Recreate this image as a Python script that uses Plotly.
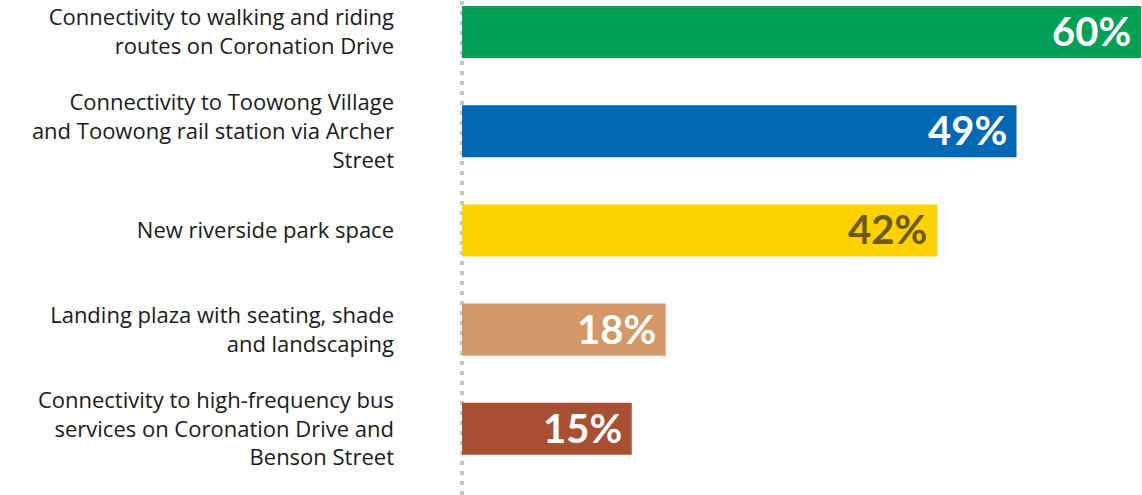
import plotly.graph_objects as go

categories = [
    "Connectivity to walking and riding<br>routes on Coronation Drive",
    "Connectivity to Toowong Village<br>and Toowong rail station via Archer<br>Street",
    "New riverside park space",
    "Landing plaza with seating, shade<br>and landscaping",
    "Connectivity to high-frequency bus<br>services on Coronation Drive and<br>Benson Street",
]
values = [60, 49, 42, 18, 15]
bar_colors = ["#00A056", "#0068B4", "#FFD100", "#D49868", "#A94F33"]
label_colors = ["#FFFFFF", "#FFFFFF", "#6B5A1C", "#FFFFFF", "#FFFFFF"]

fig = go.Figure()
fig.add_trace(go.Bar(
    x=values, y=categories, orientation="h",
    marker=dict(color=bar_colors, line=dict(width=0)),
    width=0.525, hoverinfo="skip",
))

# value labels inside bar ends
for v, c, lc in zip(values, categories, label_colors):
    fig.add_annotation(
        x=v, y=c, xref="x", yref="y", text=f"<b>{v}%</b>",
        showarrow=False, xanchor="right", yanchor="middle", xshift=-8, yshift=1,
        font=dict(family="Lato", size=40, color=lc),
    )

# dotted baseline (paper ref so it is not clipped by the plot area)
fig.add_shape(type="line", xref="paper", yref="paper", x0=0, x1=0, y0=0, y1=1,
              line=dict(color="#C4C4C4", width=4, dash="4px,6px"), layer="below")

fig.update_layout(
    width=1142, height=495,
    margin=dict(l=462, r=1, t=0, b=0, autoexpand=False),
    paper_bgcolor="white", plot_bgcolor="white",
    showlegend=False,
    xaxis=dict(range=[0, 60], visible=False, fixedrange=True, automargin=False),
    yaxis=dict(
        categoryorder="array", categoryarray=categories,
        range=[4.667, -0.323], automargin=False, fixedrange=True,
        showgrid=False, zeroline=False, showline=False, ticks="",
        ticklabelstandoff=67,
        tickfont=dict(family="Open Sans", size=22, color="#1a1a1a"),
    ),
)

fig.write_html("out.html", config={"displayModeBar": False},
               post_script="document.body.style.margin='0';")
